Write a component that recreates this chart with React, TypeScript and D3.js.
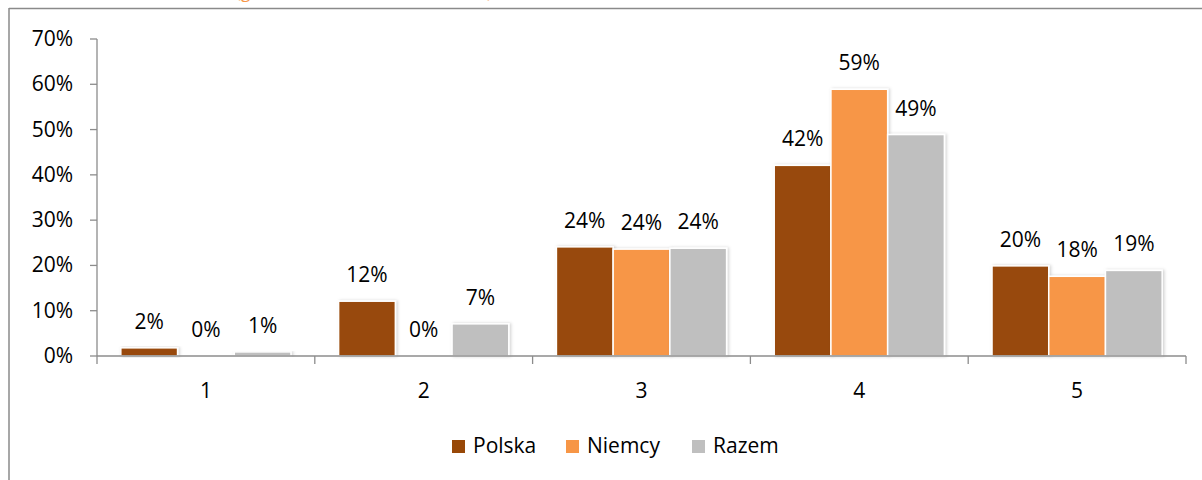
import React from "react";
import * as d3 from "d3";

const categories = ["1", "2", "3", "4", "5"];
const seriesNames = ["Polska", "Niemcy", "Razem"];
const polska = [1.8, 12.1, 24.1, 42.1, 19.9];
const niemcy = [0, 0, 23.6, 58.9, 17.6];
const razem = [0.9, 7.1, 23.8, 48.9, 18.9];
const yTicks = [0, 10, 20, 30, 40, 50, 60, 70];
const titleText = "(gdzie 1 – źle, 5 – bardzo dobrze)";

const colors = ["#984807", "#F79646", "#BFBFBF"];
const FONT = "'Open Sans', Lato, sans-serif";

const W = 1202;
const H = 480;
const left = 97;
const right = 1186;
const top = 39;
const bottom = 356;

export default function App() {
  const values = [polska, niemcy, razem];
  const x0 = d3.scaleBand<string>().domain(categories).range([left, right]).paddingInner(0).paddingOuter(0);
  const x1 = d3
    .scaleBand<string>()
    .domain(seriesNames)
    .range([0, x0.bandwidth()])
    .paddingOuter(0.42)
    .paddingInner(0);
  const y = d3.scaleLinear().domain([0, 70]).range([bottom, top]);

  const legendItems = [
    { name: seriesNames[0], x: 452, color: colors[0] },
    { name: seriesNames[1], x: 566, color: colors[1] },
    { name: seriesNames[2], x: 692, color: colors[2] },
  ];

  return (
    <svg
      width={W}
      height={H}
      style={{ position: "absolute", left: 0, top: 0, background: "#fff" }}
      fontFamily={FONT}
    >
      <defs>
        <filter id="barShadow" x="-20%" y="-20%" width="140%" height="140%">
          <feDropShadow dx="1.5" dy="0" stdDeviation="1.5" floodColor="#000" floodOpacity="0.18" />
        </filter>
      </defs>

      {/* title sits above the frame, only its lowest strokes reach the page */}
      <text x={236} y={-2.5} fontSize={17} fill="#F79646">
        {titleText}
      </text>

      {/* chart frame */}
      <line x1={9} x2={W} y1={8.5} y2={8.5} stroke="#8a8a8a" strokeWidth={1.5} />
      <line x1={9} x2={9} y1={8} y2={H} stroke="#8a8a8a" strokeWidth={1.5} />

      {/* y axis */}
      <line x1={left} x2={left} y1={y(70)} y2={bottom} stroke="#8c8c8c" strokeWidth={1.3} />
      {yTicks.map((t) => (
        <g key={t}>
          <line x1={left - 7} x2={left} y1={y(t)} y2={y(t)} stroke="#8c8c8c" strokeWidth={1.3} />
          <text x={left - 24} y={y(t) + 7} textAnchor="end" fontSize={21} fill="#000">
            {`${t}%`}
          </text>
        </g>
      ))}

      {/* bars */}
      {categories.map((c, ci) => (
        <g key={c}>
          {seriesNames.map((s, si) => {
            const v = values[si][ci];
            const bx = (x0(c) as number) + (x1(s) as number);
            const bw = x1.bandwidth();
            const by = y(v);
            return (
              <g key={s}>
                {v > 0 && (
                  <rect
                    x={bx}
                    y={by}
                    width={bw}
                    height={bottom - by}
                    fill={colors[si]}
                    stroke="#fff"
                    strokeWidth={1.5}
                    filter="url(#barShadow)"
                  />
                )}
                <text x={bx + bw / 2} y={by - 19} textAnchor="middle" fontSize={21} fill="#000">
                  {`${Math.round(v)}%`}
                </text>
              </g>
            );
          })}
        </g>
      ))}

      {/* x axis */}
      <line x1={left} x2={right} y1={bottom} y2={bottom} stroke="#8c8c8c" strokeWidth={1.3} />
      {[...categories.map((c) => x0(c) as number), right].map((tx, i) => (
        <line key={i} x1={tx} x2={tx} y1={bottom} y2={bottom + 8} stroke="#8c8c8c" strokeWidth={1.3} />
      ))}
      {categories.map((c) => (
        <text
          key={c}
          x={(x0(c) as number) + x0.bandwidth() / 2}
          y={398}
          textAnchor="middle"
          fontSize={21}
          fill="#000"
        >
          {c}
        </text>
      ))}

      {/* legend */}
      {legendItems.map((it) => (
        <g key={it.name}>
          <rect x={it.x} y={440} width={13} height={13} fill={it.color} />
          <text x={it.x + 21} y={453} fontSize={21} fill="#000">
            {it.name}
          </text>
        </g>
      ))}
    </svg>
  );
}
